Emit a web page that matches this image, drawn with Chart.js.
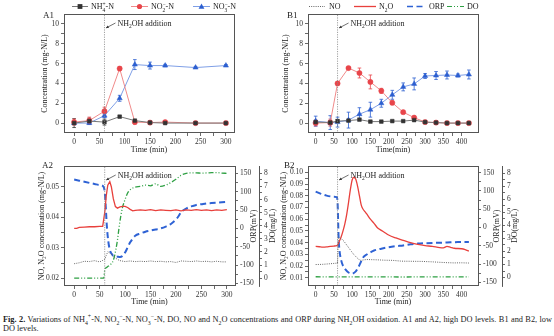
<!DOCTYPE html>
<html>
<head>
<meta charset="utf-8">
<script src="https://cdn.jsdelivr.net/npm/chart.js@4.4.1/dist/chart.umd.min.js"></script>
<style>
  html, body { margin: 0; padding: 0; background: #fff; }
  body { width: 554px; height: 336px; position: relative; overflow: hidden; }
  canvas { position: absolute; }
  #caption {
    position: absolute; left: 3px; top: 315px; width: 549px;
    font-family: "Liberation Serif", serif; font-size: 8.3px; line-height: 9.2px;
    color: #222; text-align: justify;
  }
  #caption sub, #caption sup { font-size: 70%; line-height: 0; }
</style>
</head>
<body>
<canvas id="a1" width="277" height="155" style="left:0;top:0"></canvas>
<canvas id="b1" width="277" height="155" style="left:277px;top:0"></canvas>
<canvas id="a2" width="280" height="155" style="left:0;top:155px"></canvas>
<canvas id="b2" width="277" height="155" style="left:277px;top:155px"></canvas>
<div id="caption"><b>Fig. 2.</b> Variations of NH<sub>4</sub><sup>+</sup>-N, NO<sub>2</sub><sup>−</sup>-N, NO<sub>3</sub><sup>−</sup>-N, DO, NO and N<sub>2</sub>O concentrations and ORP during NH<sub>2</sub>OH oxidation. A1 and A2, high DO levels. B1 and B2, low DO levels.</div>
<script>
const FONT = '"Liberation Serif", "Times New Roman", serif';

// NH2OH dosed at this time (min)
const additionTime = 60;

// ---- A1: high DO, nitrogen species (mg-N/L) ----
const timeA1 = [0, 30, 60, 90, 120, 150, 180, 240, 300];
const nh4A1 = [0, 0.2, 0.1, 0.65, 0.25, 0.05, 0, 0, 0];
const nh4A1Err = [0.45, 0.3, 0.3, 0.1, 0.1, 0.05, 0.05, 0.05, 0.05];
const no2A1 = [0.1, 0.25, 1.2, 5.5, 0.1, 0.05, 0.1, 0, 0];
const no2A1Err = [0.3, 0.35, 0.4, 0.2, 0.2, 0.1, 0.15, 0.1, 0.1];
const no3A1 = [0, 0, 0.75, 2.5, 5.9, 5.8, 5.8, 5.6, 5.8];
const no3A1Err = [0.1, 0.1, 0.2, 0.3, 0.5, 0.35, 0.12, 0.1, 0.1];

// ---- B1: low DO, nitrogen species (mg-N/L) ----
const timeB1 = [0, 40, 60, 90, 120, 150, 180, 210, 240, 270, 300, 330, 360, 390, 420];
const nh4B1 = [0.1, 0.05, 0.2, 0.25, 0.35, 0.15, 0.15, 0.2, 0.2, 0.3, 0.1, 0.05, 0, 0, 0];
const nh4B1Err = [0.15, 0.2, 0.15, 0.1, 0.1, 0.1, 0.1, 0.05, 0.05, 0.1, 0.05, 0.05, 0.05, 0.05, 0.05];
const no2B1 = [0, 0.05, 4.0, 5.55, 5.05, 4.15, 3.25, 2.05, 1.1, 0.55, 0.1, 0.05, 0, 0, 0];
const no2B1Err = [0.3, 0.35, 0.1, 0.15, 0.5, 0.7, 0.25, 0.2, 0.1, 0.15, 0.1, 0.05, 0.05, 0.05, 0.05];
const no3B1 = [0.2, 0.05, 0.1, 0.3, 0.9, 1.35, 2.0, 2.85, 3.65, 3.95, 4.75, 4.8, 4.85, 4.8, 4.9];
const no3B1Err = [0.5, 0.7, 0.5, 0.8, 0.65, 0.75, 0.4, 0.45, 0.4, 0.6, 0.25, 0.4, 0.4, 0.15, 0.45];

// ---- A2: high DO, online probes ----
const a2NoTime = [0, 10, 20, 30, 40, 50, 55, 60, 63, 66, 70, 75, 80, 85, 90, 100, 110, 120, 130, 140, 150, 160, 170, 180, 190, 200, 210, 220, 230, 240, 250, 260, 270, 280, 290, 300];
const a2No = [0.0248, 0.0251, 0.0256, 0.0255, 0.0258, 0.0254, 0.0258, 0.0262, 0.0275, 0.0287, 0.0283, 0.0276, 0.0268, 0.0262, 0.0258, 0.0255, 0.0257, 0.0255, 0.0256, 0.0255, 0.0257, 0.0255, 0.0256, 0.0254, 0.0255, 0.0252, 0.0257, 0.0256, 0.0255, 0.0257, 0.0255, 0.0256, 0.0254, 0.0256, 0.0254, 0.0254];
const a2N2oTime = [0, 5, 10, 20, 30, 40, 50, 56, 60, 63, 66, 70, 73, 77, 81, 85, 90, 95, 100, 105, 110, 115, 120, 130, 140, 150, 160, 170, 180, 190, 200, 210, 220, 230, 240, 250, 260, 270, 280, 290, 300];
const a2N2o = [0.0364, 0.0364, 0.0367, 0.0368, 0.0369, 0.0369, 0.0370, 0.0370, 0.0415, 0.0470, 0.0505, 0.0517, 0.0500, 0.0460, 0.0435, 0.0430, 0.0434, 0.0436, 0.0436, 0.0432, 0.0426, 0.0421, 0.0423, 0.0424, 0.0423, 0.0425, 0.0422, 0.0424, 0.0423, 0.0422, 0.0424, 0.0421, 0.0424, 0.0423, 0.0425, 0.0423, 0.0424, 0.0422, 0.0424, 0.0423, 0.0425];
const a2OrpTime = [0, 10, 20, 30, 40, 50, 57, 60, 62, 64, 67, 70, 75, 80, 85, 90, 95, 100, 105, 110, 115, 120, 130, 140, 150, 160, 170, 180, 190, 200, 205, 210, 220, 230, 240, 250, 260, 270, 280, 290, 300];
const a2Orp = [133, 130, 127, 124, 121, 118, 115, 100, 60, 10, -35, -58, -72, -76, -77, -78, -75, -66, -52, -38, -28, -20, -14, -9, -6, -3, 0, 5, 12, 24, 33, 44, 54, 60, 64, 66, 68, 69, 70, 71, 72];
const a2DoTime = [0, 20, 40, 58, 60, 65, 70, 75, 78, 82, 85, 88, 91, 95, 100, 105, 110, 120, 130, 140, 150, 160, 170, 180, 190, 200, 210, 220, 230, 240, 250, 260, 270, 280, 290, 300];
const a2Do = [0, 0, 0, 0, 0.6, 0.85, 1.0, 1.2, 1.5, 2.2, 2.9, 3.8, 4.6, 5.4, 6.0, 6.5, 6.75, 6.95, 7.0, 7.1, 7.05, 7.2, 7.0, 7.1, 7.3, 7.55, 7.85, 8.0, 8.03, 8.03, 8.02, 8.03, 8.05, 8.06, 8.02, 8.0];

// ---- B2: low DO, online probes ----
const b2NoTime = [0, 20, 40, 58, 60, 62, 65, 70, 78, 85, 91, 98, 105, 112, 118, 124, 130, 140, 150, 170, 190, 210, 235, 260, 290, 320, 342, 360, 380, 400, 420];
const b2No = [0.0213, 0.0215, 0.0220, 0.0225, 0.0226, 0.0440, 0.0440, 0.0435, 0.0410, 0.0380, 0.0355, 0.0325, 0.0297, 0.0275, 0.0258, 0.0248, 0.0252, 0.0256, 0.0255, 0.0253, 0.0250, 0.0249, 0.0242, 0.0241, 0.0240, 0.0236, 0.0232, 0.0229, 0.0227, 0.0228, 0.0226];
const b2N2oTime = [0, 10, 20, 30, 40, 50, 58, 62, 66, 70, 75, 80, 85, 90, 95, 100, 105, 110, 115, 120, 125, 130, 135, 140, 150, 160, 170, 180, 190, 200, 220, 240, 260, 280, 300, 320, 340, 350, 360, 370, 380, 400, 410, 420];
const b2N2o = [0.0368, 0.0365, 0.0362, 0.0364, 0.0368, 0.0371, 0.0374, 0.0392, 0.0420, 0.0450, 0.0500, 0.0560, 0.0640, 0.0740, 0.0850, 0.0935, 0.0958, 0.0940, 0.0880, 0.0800, 0.0720, 0.0685, 0.0665, 0.0645, 0.0600, 0.0565, 0.0525, 0.0505, 0.0485, 0.0465, 0.0440, 0.0420, 0.0400, 0.0385, 0.0375, 0.0368, 0.0358, 0.0356, 0.0368, 0.0360, 0.0352, 0.0348, 0.0340, 0.0327];
const b2OrpTime = [0, 10, 20, 30, 40, 50, 58, 60, 61, 62, 63, 65, 70, 75, 80, 90, 100, 110, 115, 120, 125, 130, 140, 150, 160, 180, 200, 220, 240, 260, 280, 300, 330, 360, 390, 420];
const b2Orp = [98, 94, 90, 87, 85, 84, 83, 70, 40, 0, -30, -60, -90, -105, -113, -123, -126, -120, -112, -103, -92, -82, -74, -68, -63, -58, -54, -51, -49, -46, -44, -43, -42, -41, -40, -40];
const b2DoTime = [0, 60, 120, 180, 240, 300, 360, 420];
const b2Do = [0.06, 0.05, 0.05, 0.05, 0.04, 0.05, 0.05, 0.05];

// ---- tick labels ----
const timeTicksA = [0, 50, 100, 150, 200, 250, 300];
const timeTicksB = [0, 50, 100, 150, 200, 250, 300, 350, 400];
const concTicks = [0, 2, 4, 6, 8, 10];
const a2GasTicks = [0.02, 0.03, 0.04, 0.05];
const b2GasTicks = [0.01, 0.02, 0.03, 0.04, 0.05, 0.06, 0.07, 0.08, 0.09, 0.10];
const orpTicks = [-150, -100, -50, 0, 50, 100, 150];
const doTicks = [0, 1, 2, 3, 4, 5, 6, 7, 8];

const C = {
  nh4: '#333333', nh4Line: '#777777',
  no2: '#e8454a', no2Line: '#f08a8a',
  no3: '#2c5fd0', no3Line: '#7f9fe6',
  no: '#666666', n2o: '#e8403c', orp: '#2e62d4', dox: '#2ea043'
};
const DASH = { no: [1, 1.2], orp: [6, 3.5], dox: [5, 2, 1, 2, 1, 2] };

const pts = (xs, ys) => xs.map((x, i) => ({ x, y: ys[i] }));

// major ticks carry labels, minor ticks sit half way and stay blank
function withMinor(major) {
  return (scale) => {
    const list = major.map(v => ({ value: v }));
    for (let i = 0; i < major.length - 1; i++) list.push({ value: (major[i] + major[i + 1]) / 2, minor: true });
    scale.ticks = list.sort((a, b) => a.value - b.value);
  };
}

function axis({ pos, min, max, major, fmt, title, size, border }) {
  return {
    type: 'linear', position: pos, min, max,
    afterBuildTicks: withMinor(major),
    afterFit: s => { if (pos === 'bottom') s.height = size; else s.width = size; },
    grid: { drawOnChartArea: false, drawTicks: true, tickLength: 3, color: '#444', lineWidth: 0.8 },
    border: { display: !!border, color: '#555', width: 1 },
    ticks: {
      autoSkip: false, maxRotation: 0, padding: 2, color: '#333',
      font: { family: FONT, size: 7.5 },
      callback: (v, i, t) => (t[i].minor ? '' : fmt(v))
    },
    title: title
      ? { display: true, text: title, color: '#222', font: { family: FONT, size: 8 }, padding: 0 }
      : { display: false }
  };
}

// text with _{sub} and ^{sup}; a sup right after a sub is stacked on it
function drawRich(ctx, str, x, y, size) {
  const big = size + 'px ' + FONT, small = (size * 0.68) + 'px ' + FONT;
  let cx = x, i = 0, lastSub = null;
  while (i < str.length) {
    const c = str[i];
    if ((c === '_' || c === '^') && str[i + 1] === '{') {
      const end = str.indexOf('}', i);
      const t = str.slice(i + 2, end);
      ctx.font = small;
      const w = ctx.measureText(t).width;
      if (c === '_') {
        ctx.fillText(t, cx, y + size * 0.28);
        lastSub = cx; cx += w;
      } else {
        const sx = lastSub !== null ? lastSub : cx;
        ctx.fillText(t, sx, y - size * 0.38);
        cx = Math.max(cx, sx + w); lastSub = null;
      }
      i = end + 1;
    } else {
      let j = i;
      while (j < str.length && !((str[j] === '_' || str[j] === '^') && str[j + 1] === '{')) j++;
      const t = str.slice(i, j);
      ctx.font = big;
      ctx.fillText(t, cx, y);
      cx += ctx.measureText(t).width; lastSub = null; i = j;
    }
  }
}

function drawMarker(ctx, shape, x, y, color) {
  ctx.fillStyle = color;
  ctx.beginPath();
  if (shape === 'rect') ctx.rect(x - 2.4, y - 2.4, 4.8, 4.8);
  else if (shape === 'circle') ctx.arc(x, y, 2.6, 0, Math.PI * 2);
  else { ctx.moveTo(x, y - 3); ctx.lineTo(x + 2.9, y + 2.2); ctx.lineTo(x - 2.9, y + 2.2); ctx.closePath(); }
  ctx.fill();
}

// error bars for the batch samples
const errorBars = {
  id: 'errorBars',
  beforeDatasetsDraw(chart) {
    const { ctx, scales: { x, y } } = chart;
    chart.data.datasets.forEach(ds => {
      if (!ds.errors) return;
      ctx.save();
      ctx.strokeStyle = ds.pointBackgroundColor;
      ctx.lineWidth = 0.8;
      ds.data.forEach((p, i) => {
        const e = ds.errors[i];
        if (!e) return;
        const px = x.getPixelForValue(p.x);
        const t = y.getPixelForValue(p.y + e), b = y.getPixelForValue(p.y - e);
        ctx.beginPath();
        ctx.moveTo(px, t); ctx.lineTo(px, b);
        ctx.moveTo(px - 1.8, t); ctx.lineTo(px + 1.8, t);
        ctx.moveTo(px - 1.8, b); ctx.lineTo(px + 1.8, b);
        ctx.stroke();
      });
      ctx.restore();
    });
  }
};

// frame, dosing line + note, panel tag, legend, right titles
function decor(cfg) {
  return {
    id: 'decor',
    afterDraw(chart) {
      const { ctx, chartArea: a, scales } = chart;
      ctx.save();
      ctx.strokeStyle = '#555'; ctx.lineWidth = 1;
      ctx.strokeRect(Math.round(a.left) + 0.5, Math.round(a.top) + 0.5,
        Math.round(a.right - a.left), Math.round(a.bottom - a.top) - 1);

      const lx = scales.x.getPixelForValue(additionTime);
      ctx.strokeStyle = '#888'; ctx.lineWidth = 0.8; ctx.setLineDash([1.2, 1.2]);
      ctx.beginPath(); ctx.moveTo(lx, a.top + 1); ctx.lineTo(lx, a.bottom - 1); ctx.stroke();
      ctx.setLineDash([]);

      // note with arrow
      const ty = a.top + 12;
      ctx.fillStyle = '#222'; ctx.textBaseline = 'alphabetic'; ctx.textAlign = 'left';
      drawRich(ctx, 'NH_{2}OH addition', lx + 13, ty, 8);
      ctx.strokeStyle = '#333'; ctx.lineWidth = 0.7;
      const ax0 = lx + 11, ay0 = ty - 3, ax1 = lx + 1.5, ay1 = ty + 2;
      ctx.beginPath(); ctx.moveTo(ax0, ay0); ctx.lineTo(ax1, ay1); ctx.stroke();
      const ang = Math.atan2(ay1 - ay0, ax1 - ax0);
      ctx.fillStyle = '#333';
      ctx.beginPath();
      ctx.moveTo(ax1, ay1);
      ctx.lineTo(ax1 - 3 * Math.cos(ang - 0.45), ay1 - 3 * Math.sin(ang - 0.45));
      ctx.lineTo(ax1 - 3 * Math.cos(ang + 0.45), ay1 - 3 * Math.sin(ang + 0.45));
      ctx.closePath(); ctx.fill();

      // panel tag
      ctx.fillStyle = '#222'; ctx.font = '9px ' + FONT; ctx.textBaseline = 'middle';
      ctx.fillText(cfg.tag, a.left + cfg.tagDx, a.top + cfg.tagDy);

      // legend row
      (cfg.legend || []).forEach(it => {
        const y = 6.5;
        ctx.save();
        ctx.strokeStyle = it.color; ctx.lineWidth = it.width || 1; ctx.setLineDash(it.dash || []);
        ctx.beginPath(); ctx.moveTo(it.x0, y); ctx.lineTo(it.x1, y); ctx.stroke();
        ctx.restore();
        if (it.marker) drawMarker(ctx, it.marker, (it.x0 + it.x1) / 2, y, it.fill);
        ctx.fillStyle = '#222'; ctx.textBaseline = 'alphabetic';
        drawRich(ctx, it.text, it.tx, y + 2.8, 8);
      });

      // right-hand titles, read bottom to top
      (cfg.rightTitles || []).forEach(([id, text]) => {
        const s = scales[id];
        ctx.save();
        ctx.translate(s.right - 5, (a.top + a.bottom) / 2);
        ctx.rotate(-Math.PI / 2);
        ctx.font = '8px ' + FONT; ctx.fillStyle = '#222';
        ctx.textAlign = 'center'; ctx.textBaseline = 'middle';
        ctx.fillText(text, 0, 0);
        ctx.restore();
      });
      ctx.restore();
    }
  };
}

function sampleSet(label, xs, ys, errs, shape, fill, line) {
  return {
    label, data: pts(xs, ys), errors: errs,
    borderColor: line, borderWidth: 1, tension: 0,
    pointStyle: shape, pointRadius: shape === 'triangle' ? 3 : 2.6,
    pointBackgroundColor: fill, pointBorderColor: fill, pointBorderWidth: 0.5
  };
}

function probeSet(label, xs, ys, axisId, color, dash, width, smooth) {
  return {
    label, data: pts(xs, ys), yAxisID: axisId,
    borderColor: color, borderWidth: width, borderDash: dash || [],
    pointRadius: 0, tension: 0, cubicInterpolationMode: smooth ? 'monotone' : 'default'
  };
}

const fmtInt = v => String(Math.round(v));
const fmt2 = v => v.toFixed(2);

function baseOptions(padding, scales) {
  return {
    responsive: false, animation: false, devicePixelRatio: 1, events: [],
    layout: { padding },
    plugins: { legend: { display: false }, tooltip: { enabled: false } },
    scales
  };
}

// A1
new Chart(document.getElementById('a1'), {
  type: 'line',
  data: { datasets: [
    sampleSet('NH4', timeA1, nh4A1, nh4A1Err, 'rect', C.nh4, C.nh4Line),
    sampleSet('NO2', timeA1, no2A1, no2A1Err, 'circle', C.no2, C.no2Line),
    sampleSet('NO3', timeA1, no3A1, no3A1Err, 'triangle', C.no3, C.no3Line)
  ] },
  options: baseOptions({ left: 40, right: 43, top: 14, bottom: 0 }, {
    x: axis({ pos: 'bottom', min: -20, max: 316, major: timeTicksA, fmt: fmtInt, title: 'Time (min)', size: 22 }),
    y: axis({ pos: 'left', min: -1, max: 11, major: concTicks, fmt: fmtInt, title: 'Concentration (mg-N/L)', size: 24 })
  }),
  plugins: [errorBars, decor({
    tag: 'A1', tagDx: -21, tagDy: 2,
    legend: [
      { text: 'NH_{4}^{+}-N', color: C.nh4Line, marker: 'rect', fill: C.nh4, x0: 72, x1: 88, tx: 91 },
      { text: 'NO_{2}^{−}-N', color: C.no2Line, marker: 'circle', fill: C.no2, x0: 131, x1: 148, tx: 151 },
      { text: 'NO_{3}^{−}-N', color: C.no3Line, marker: 'triangle', fill: C.no3, x0: 193, x1: 210, tx: 213 }
    ]
  })]
});

// B1
new Chart(document.getElementById('b1'), {
  type: 'line',
  data: { datasets: [
    sampleSet('NH4', timeB1, nh4B1, nh4B1Err, 'rect', C.nh4, C.nh4Line),
    sampleSet('NO2', timeB1, no2B1, no2B1Err, 'circle', C.no2, C.no2Line),
    sampleSet('NO3', timeB1, no3B1, no3B1Err, 'triangle', C.no3, C.no3Line)
  ] },
  options: baseOptions({ left: 4, right: 76, top: 14, bottom: 0 }, {
    x: axis({ pos: 'bottom', min: -21, max: 445, major: timeTicksB, fmt: fmtInt, title: 'Time(min)', size: 22 }),
    y: axis({ pos: 'left', min: -1, max: 11, major: concTicks, fmt: fmtInt, title: 'Concentration (mg-N/L)', size: 27 })
  }),
  plugins: [errorBars, decor({
    tag: 'B1', tagDx: -21, tagDy: 2,
    legend: [
      { text: 'NO', color: C.no, dash: DASH.no, x0: 32, x1: 48, tx: 52 },
      { text: 'N_{2}O', color: C.n2o, width: 1.3, x0: 77, x1: 99, tx: 102 },
      { text: 'ORP', color: C.orp, dash: DASH.orp, width: 1.6, x0: 130, x1: 147, tx: 152 },
      { text: 'DO', color: C.dox, dash: DASH.dox, width: 1.2, x0: 170, x1: 187, tx: 190 }
    ]
  })]
});

// A2
new Chart(document.getElementById('a2'), {
  type: 'line',
  data: { datasets: [
    probeSet('NO', a2NoTime, a2No, 'y', C.no, DASH.no, 1, false),
    probeSet('N2O', a2N2oTime, a2N2o, 'y', C.n2o, null, 1.3, false),
    probeSet('ORP', a2OrpTime, a2Orp, 'orp', C.orp, DASH.orp, 2, true),
    probeSet('DO', a2DoTime, a2Do, 'do', C.dox, DASH.dox, 1.3, true)
  ] },
  options: baseOptions({ left: 37, right: 2, top: 11, bottom: 3 }, {
    x: axis({ pos: 'bottom', min: -20, max: 316, major: timeTicksA, fmt: fmtInt, title: 'Time (min)', size: 21 }),
    y: axis({ pos: 'left', min: 0.0175, max: 0.0568, major: a2GasTicks, fmt: fmt2, title: 'NO, N₂O concentration (mg-N/L)', size: 27 }),
    orp: axis({ pos: 'right', min: -157, max: 170, major: orpTicks, fmt: fmtInt, size: 24 }),
    do: axis({ pos: 'right', min: -0.6, max: 8.56, major: doTicks, fmt: fmtInt, size: 19, border: true })
  }),
  plugins: [decor({ tag: 'A2', tagDx: -22, tagDy: 0, rightTitles: [['orp', 'ORP(mV)'], ['do', 'DO(mg/L)']] })]
});

// B2
new Chart(document.getElementById('b2'), {
  type: 'line',
  data: { datasets: [
    probeSet('NO', b2NoTime, b2No, 'y', C.no, DASH.no, 1, false),
    probeSet('N2O', b2N2oTime, b2N2o, 'y', C.n2o, null, 1.3, true),
    probeSet('ORP', b2OrpTime, b2Orp, 'orp', C.orp, DASH.orp, 2, true),
    probeSet('DO', b2DoTime, b2Do, 'do', C.dox, DASH.dox, 1.3, false)
  ] },
  options: baseOptions({ left: 2, right: 34, top: 11, bottom: 3 }, {
    x: axis({ pos: 'bottom', min: -21, max: 445, major: timeTicksB, fmt: fmtInt, title: 'Time (min)', size: 21 }),
    y: axis({ pos: 'left', min: 0.003, max: 0.1054, major: b2GasTicks, fmt: fmt2, title: 'NO, N₂O concentration (mg-N/L)', size: 29 }),
    orp: axis({ pos: 'right', min: -160, max: 168, major: orpTicks, fmt: fmtInt, size: 24 }),
    do: axis({ pos: 'right', min: -0.65, max: 8.56, major: doTicks, fmt: fmtInt, size: 18, border: true })
  }),
  plugins: [decor({ tag: 'B2', tagDx: -24, tagDy: 0, rightTitles: [['orp', 'ORP(mV)'], ['do', 'DO(mg/L)']] })]
});
</script>
</body>
</html>
